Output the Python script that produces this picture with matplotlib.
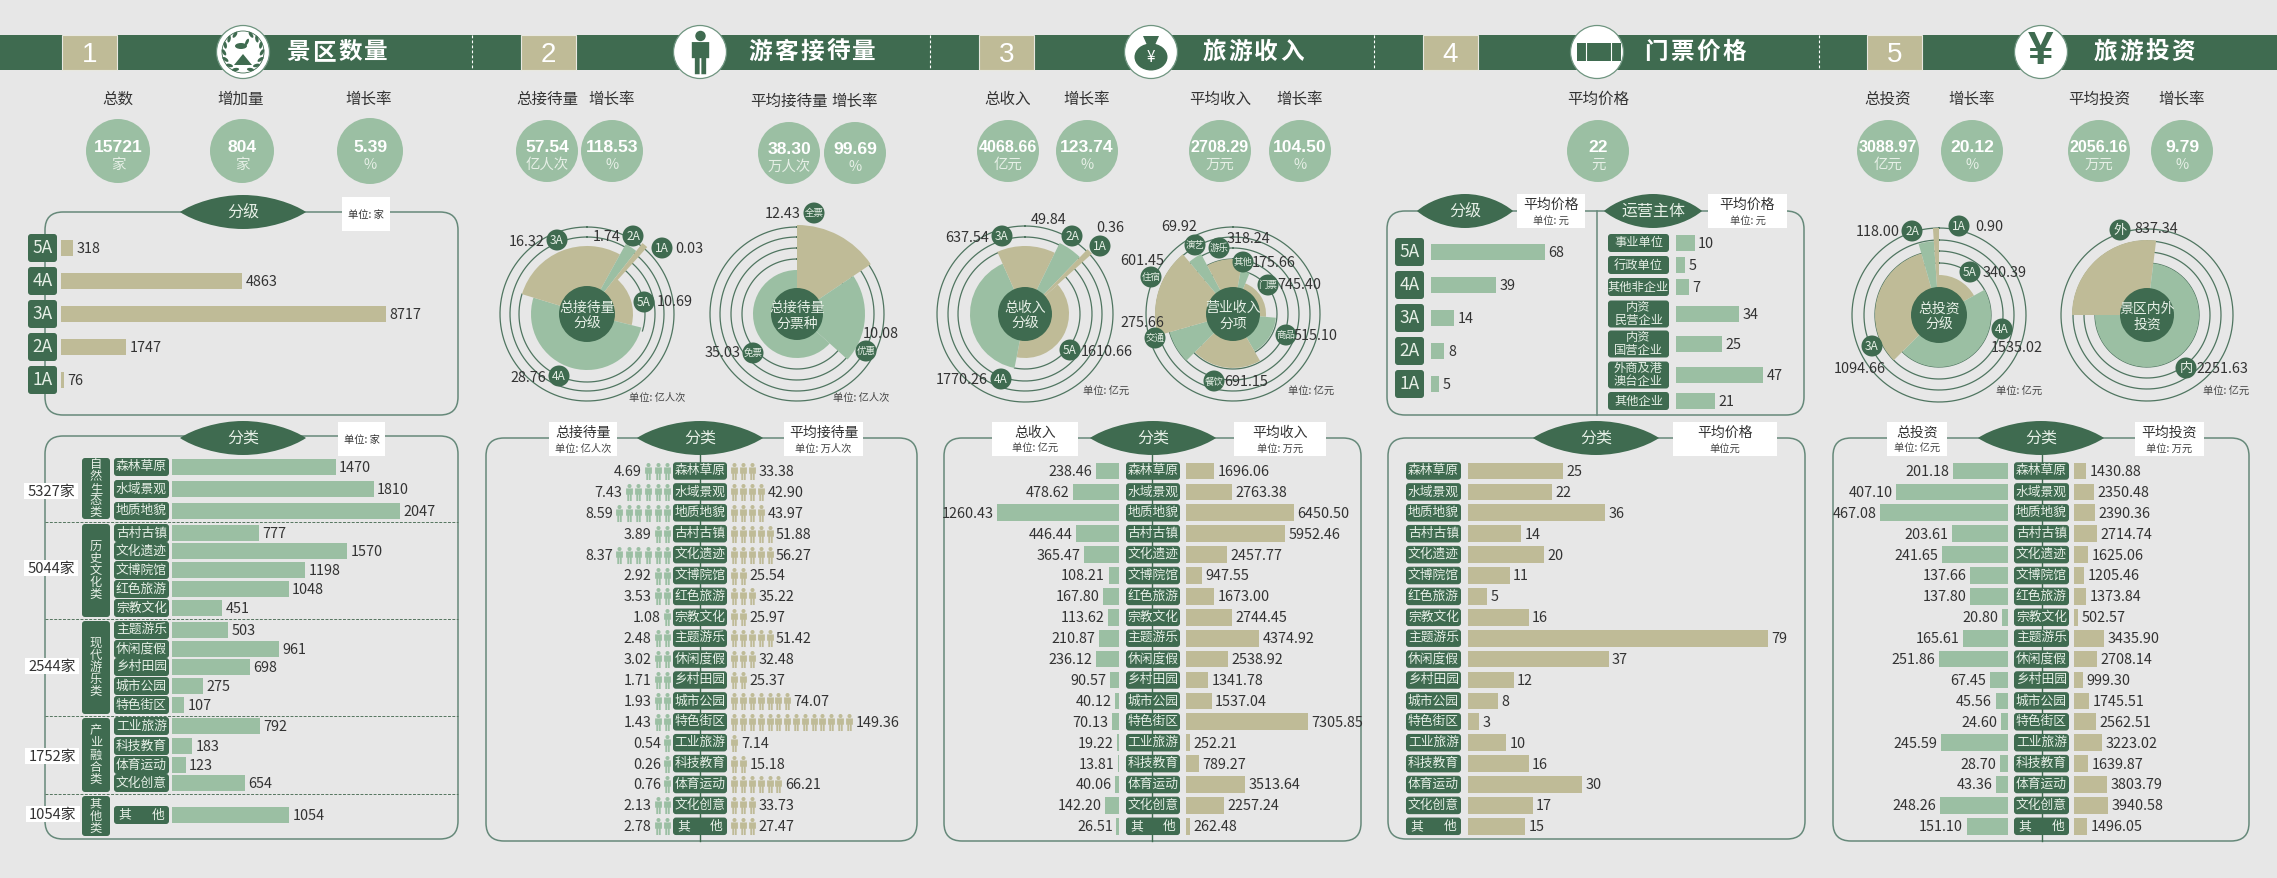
import numpy as np
import matplotlib
matplotlib.use("Agg")
import matplotlib.pyplot as plt
from matplotlib.patches import Circle, Ellipse, FancyBboxPatch, PathPatch, Rectangle
from matplotlib.path import Path

plt.rcParams["font.family"] = ["Noto Sans CJK SC", "DejaVu Sans"]

W, H = 2277, 879
BG = "#e7e7e7"
DARK = "#3f6b50"
GREEN = "#9bbfa3"
TAN = "#bfbb97"
INK = "#333333"
PALE = "#e6efe6"
RING = "#4f7560"
EDGE = "#66897a"
VAL_SIZE = 10.4

# ---- data ----
CATS = ["森林草原", "水域景观", "地质地貌", "古村古镇", "文化遗迹", "文博院馆", "红色旅游", "宗教文化", "主题游乐",
        "休闲度假", "乡村田园", "城市公园", "特色街区", "工业旅游", "科技教育", "体育运动", "文化创意", "其他"]
GRADES = ["5A", "4A", "3A", "2A", "1A"]

spots_by_grade = [318, 4863, 8717, 1747, 76]
spots_by_cat = [1470, 1810, 2047, 777, 1570, 1198, 1048, 451, 503, 961, 698, 275, 107, 792, 183, 123, 654, 1054]
group_names = ["自然生态类", "历史文化类", "现代游乐类", "产业融合类", "其他类"]
group_totals = ["5327家", "5044家", "2544家", "1752家", "1054家"]

guests_total = [4.69, 7.43, 8.59, 3.89, 8.37, 2.92, 3.53, 1.08, 2.48, 3.02, 1.71, 1.93, 1.43, 0.54, 0.26, 0.76, 2.13, 2.78]
guests_avg = [33.38, 42.90, 43.97, 51.88, 56.27, 25.54, 35.22, 25.97, 51.42, 32.48, 25.37, 74.07, 149.36, 7.14, 15.18, 66.21, 33.73, 27.47]
guests_total_icons = [3, 5, 6, 2, 6, 2, 2, 1, 2, 2, 2, 2, 2, 1, 1, 1, 2, 2]
guests_avg_icons = [3, 4, 4, 5, 5, 2, 3, 2, 5, 3, 2, 7, 14, 1, 2, 6, 3, 3]

income_total = [238.46, 478.62, 1260.43, 446.44, 365.47, 108.21, 167.80, 113.62, 210.87, 236.12, 90.57, 40.12, 70.13, 19.22, 13.81, 40.06, 142.20, 26.51]
income_avg = [1696.06, 2763.38, 6450.50, 5952.46, 2457.77, 947.55, 1673.00, 2744.45, 4374.92, 2538.92, 1341.78, 1537.04, 7305.85, 252.21, 789.27, 3513.64, 2257.24, 262.48]

price_by_grade = [68, 39, 14, 8, 5]
owners = ["事业单位", "行政单位", "其他非企业", "内资\n民营企业", "内资\n国营企业", "外商及港\n澳台企业", "其他企业"]
price_by_owner = [10, 5, 7, 34, 25, 47, 21]
price_by_cat = [25, 22, 36, 14, 20, 11, 5, 16, 79, 37, 12, 8, 3, 10, 16, 30, 17, 15]

invest_total = [201.18, 407.10, 467.08, 203.61, 241.65, 137.66, 137.80, 20.80, 165.61, 251.86, 67.45, 45.56, 24.60, 245.59, 28.70, 43.36, 248.26, 151.10]
invest_avg = [1430.88, 2350.48, 2390.36, 2714.74, 1625.06, 1205.46, 1373.84, 502.57, 3435.90, 2708.14, 999.30, 1745.51, 2562.51, 3223.02, 1639.87, 3803.79, 3940.58, 1496.05]

rose_guest_grade = [10.69, 28.76, 16.32, 1.74, 0.03]
rose_guest_ticket_names = ["全票", "优惠", "免票"]
rose_guest_ticket = [12.43, 10.08, 35.03]
rose_income_grade = [1610.66, 1770.26, 637.54, 49.84, 0.36]
rose_income_item_names = ["门票", "商品", "餐饮", "交通", "住宿", "演艺", "游乐", "其他"]
rose_income_item = [745.40, 515.10, 691.15, 275.66, 601.45, 69.92, 318.24, 175.66]
rose_invest_grade = [340.39, 1535.02, 1094.66, 118.00, 0.90]
rose_invest_place_names = ["外", "内"]
rose_invest_place = [837.34, 2251.63]

angles_guest_grade = [40, 104, 287, 389, 398, 402]
reach_guest_grade = [46, 56, 68, 80, 90]
angles_guest_ticket = [0, 56, 132, 360]
reach_guest_ticket = [89, 68, 44]
angles_income_grade = [48, 191, 336, 386, 404, 408]
reach_income_grade = [44, 55, 68, 79, 90]
angles_income_item = [22, 95, 150, 225, 254, 320, 332, 370, 382]
reach_income_item = [33, 43, 54, 66, 78, 68, 55, 44]
angles_invest_grade = [0, 61, 225, 344, 356, 360]
reach_invest_grade = [40, 52, 64, 74, 87]
angles_invest_place = [270, 367, 630]
reach_invest_place = [75, 52]

# ---- layout in reference pixels ----
ROW_Y = 472 + 20.9 * np.arange(18)
CLS_ROW_Y = [468, 490, 512, 534, 552, 571, 590, 609, 631, 650, 668, 687, 706, 727, 747, 766, 784, 816]
GRADE_Y = [249, 282, 315, 348, 381]
PRICE_GRADE_Y = [253, 286, 319, 352, 385]
OWNER_Y = [244, 266, 288, 315, 345, 376, 402]
OWNER_H = [18, 18, 18, 27, 27, 27, 18]
GROUP_BOX = [(459, 520), (525, 618), (622, 715), (719, 793), (797, 837)]
GROUP_LABEL = [(51, 492), (51, 569), (52, 667), (52, 757), (53, 815)]
GROUP_DASH_Y = [523, 620, 717, 795]

fig = plt.figure(figsize=(W / 100, H / 100), dpi=100, facecolor=BG)


def layer(z):
    ax = fig.add_axes([0, 0, 1, 1], zorder=z)
    ax.set_xlim(0, W)
    ax.set_ylim(H, 0)
    ax.axis("off")
    ax.patch.set_alpha(0)
    return ax


bg = layer(0)
fg = layer(10)


def rounded(ax, x0, y0, x1, y1, r, fc="none", ec="none", lw=1.0, z=2):
    ax.add_patch(FancyBboxPatch((x0, y0), x1 - x0, y1 - y0, boxstyle=f"round,pad=0,rounding_size={r}",
                                fc=fc, ec=ec, lw=lw, zorder=z))


def txt(ax, x, y, s, size=10, color=INK, z=6, **kw):
    ax.text(x, y, s, fontsize=size, color=color, ha="center", va="center", zorder=z, **kw)


def leaf(cx, cy, hw, hh, s):
    verts = [(cx - hw, cy), (cx - hw * 0.8, cy - hh * 0.5), (cx - hw * 0.4, cy - hh), (cx, cy - hh),
             (cx + hw * 0.4, cy - hh), (cx + hw * 0.8, cy - hh * 0.5), (cx + hw, cy),
             (cx + hw * 0.8, cy + hh * 0.5), (cx + hw * 0.4, cy + hh), (cx, cy + hh),
             (cx - hw * 0.4, cy + hh), (cx - hw * 0.8, cy + hh * 0.5), (cx - hw, cy)]
    codes = [Path.MOVETO] + [Path.CURVE4] * 12
    fg.add_patch(PathPatch(Path(verts, codes), fc=DARK, ec="none", zorder=4))
    txt(fg, cx, cy - 1, s, 11.5, PALE)


def note(x0, x1, y0, y1, head, unit):
    fg.add_patch(Rectangle((x0, y0), x1 - x0, y1 - y0, fc="white", ec="none", zorder=4))
    cx = (x0 + x1) / 2
    if head:
        txt(fg, cx, y0 + 10, head, 10)
        txt(fg, cx, y0 + 26, unit, 7.4, "#444444")
    else:
        txt(fg, cx, (y0 + y1) / 2, unit, 7.4, "#333333")


def tag(x0, x1, yc, h, s, size=9.2):
    rounded(fg, x0, yc - h / 2, x1, yc + h / 2, 3, fc=DARK)
    if s == "其他":
        txt(fg, x0 + 11, yc - 1, "其", size, PALE)
        txt(fg, x1 - 11, yc - 1, "他", size, PALE)
    else:
        txt(fg, (x0 + x1) / 2, yc - 1, s, size, PALE, linespacing=0.95)


def kpi(x, y, r, value, unit):
    fg.add_patch(Circle((x, y), r, fc=GREEN, ec="none", zorder=3))
    size = 11.6 if len(value) >= 7 else 12.6
    txt(fg, x, y - 5, value, size, "white", family="Liberation Sans", fontweight="bold")
    txt(fg, x, y + 13, unit, 10.4, PALE)


def bars(x0, x1, rows, values, color, vmax, fmt="{:g}", flip=False, height=16.7, size=VAL_SIZE):
    ytop, ybot = min(rows) - 12, max(rows) + 12
    ax = fig.add_axes([x0 / W, 1 - ybot / H, (x1 - x0) / W, (ybot - ytop) / H], zorder=5)
    ax.set_xlim((vmax, 0) if flip else (0, vmax))
    ax.set_ylim(ybot, ytop)
    ax.axis("off")
    ax.patch.set_alpha(0)
    ax.barh(rows, values, height=height, color=color)
    for v, y in zip(values, rows):
        ax.annotate(fmt.format(v), (v, y), xytext=(-2.5 if flip else 2.5, 0), textcoords="offset points",
                    ha="right" if flip else "left", va="center", fontsize=size, color=INK, annotation_clip=False)
    return ax


PERSON = Path.make_compound_path(
    Path.circle((0, 0.38), 0.12),
    Path([(-0.2, 0.24), (0.2, 0.24), (0.2, -0.13), (0.13, -0.13), (0.13, -0.5), (0.02, -0.5), (0.02, -0.13),
          (-0.02, -0.13), (-0.02, -0.5), (-0.13, -0.5), (-0.13, -0.13), (-0.2, -0.13), (-0.2, 0.24)],
         [Path.MOVETO] + [Path.LINETO] * 11 + [Path.CLOSEPOLY]))


def people(base, pitch, slots, rows, counts, values, color, flip=False):
    x0, x1 = (base - pitch * slots, base) if flip else (base, base + pitch * slots)
    ytop, ybot = min(rows) - 12, max(rows) + 12
    ax = fig.add_axes([x0 / W, 1 - ybot / H, (x1 - x0) / W, (ybot - ytop) / H], zorder=5)
    ax.set_xlim((slots, 0) if flip else (0, slots))
    ax.set_ylim(ybot, ytop)
    ax.axis("off")
    ax.patch.set_alpha(0)
    for n, v, y in zip(counts, values, rows):
        ax.scatter(np.arange(n) + 0.5, [y] * n, s=150, marker=PERSON, color=color, linewidths=0)
        ax.annotate(f"{v:.2f}", (n, y), xytext=(-1 if flip else 1.5, 0), textcoords="offset points",
                    ha="right" if flip else "left", va="center", fontsize=VAL_SIZE, color=INK, annotation_clip=False)


def rose(cx, cy, angles, reach, colors, rings, hub, hub_text):
    R = 100
    ax = fig.add_axes([(cx - R) / W, 1 - (cy + R) / H, 2 * R / W, 2 * R / H], projection="polar", zorder=5)
    ax.set_theta_zero_location("N")
    ax.set_theta_direction(-1)
    ax.set_ylim(0, R)
    ax.axis("off")
    ax.patch.set_alpha(0)
    for r, a0, a1 in rings:
        th = np.radians(np.linspace(a0, a1, 240))
        ax.plot(th, np.full_like(th, r), color=RING, lw=0.9, zorder=1)
    for a0, a1, r, c in zip(angles[:-1], angles[1:], reach, colors):
        ax.bar(np.radians(a0), r, width=np.radians(a1 - a0), align="edge", color=c, linewidth=0, zorder=2)
    ax.bar(0, hub, width=2 * np.pi, color=DARK, linewidth=0, zorder=3)
    txt(fg, cx, cy - 7, hub_text[0], 10, PALE)
    txt(fg, cx, cy + 9, hub_text[1], 10, PALE)


def badge(x, y, s, value, vx, vy):
    fg.add_patch(Circle((x, y), 10.5, fc=DARK, ec="none", zorder=6))
    txt(fg, x, y - 0.5, s, 8.6 if s.isascii() else 6.8 if len(s) > 1 else 9.5, PALE, z=7)
    txt(fg, vx, vy, f"{value:.2f}", VAL_SIZE, INK, z=7)


def full(*radii):
    return [(r, 0, 360) for r in radii]


# ---- header band ----
bg.add_patch(Rectangle((0, 36), W, 35, fc=DARK, ec="none", zorder=1))
for x in [472, 930, 1374, 1819]:
    bg.plot([x, x], [36, 71], color="white", lw=0.8, ls=(0, (2.5, 2)), zorder=2)
for x, n in zip([62, 521, 979, 1423, 1867], "12345"):
    bg.add_patch(Rectangle((x, 36), 55, 35, fc=TAN, ec="#e8e8e0", lw=0.8, zorder=2))
    txt(bg, x + 27.5, 55, n, 20, "white", family="Liberation Sans")
for x, t in zip([337, 812, 1253, 1695, 2144], ["景区数量", "游客接待量", "旅游收入", "门票价格", "旅游投资"]):
    pitch = 26
    for i, ch in enumerate(t):
        txt(bg, x + (i - (len(t) - 1) / 2) * pitch, 52, ch, 17, "white", fontweight="bold")
for x in [243, 700, 1151, 1597, 2041]:
    fg.add_patch(Circle((x, 53), 26.5, fc="white", ec="#6f9580", lw=0.9, zorder=3))

# emblem
fg.add_patch(Circle((243, 53), 21, fc="white", ec=DARK, lw=0.6, zorder=4))
for side in (-1, 1):
    for a in np.radians(np.arange(-65, 70, 22)):
        ex, ey = 243 + side * 19 * np.cos(a), 53 + 19 * np.sin(a)
        fg.add_patch(Ellipse((ex, ey), 3.2, 7, angle=np.degrees(a) * side + 90 - 60 * side, fc=DARK, ec="none", zorder=5))
fg.add_patch(Ellipse((241, 47), 12, 6, fc=DARK, ec="none", zorder=5))
fg.add_patch(Ellipse((247, 43), 3, 7, angle=25, fc=DARK, ec="none", zorder=5))
fg.add_patch(PathPatch(Path([(234, 66), (243, 55), (252, 66), (234, 66)], closed=True), fc=DARK, ec="none", zorder=5))

# person, bag, ticket, yen
fg.scatter([700], [53], s=980, marker=PERSON, color=DARK, linewidths=0, zorder=5)
fg.add_patch(Ellipse((1151, 58), 33, 27, fc=DARK, ec="none", zorder=5))
fg.add_patch(PathPatch(Path([(1143, 37), (1159, 37), (1155, 46), (1147, 46), (1143, 37)], closed=True), fc=DARK, ec="none", zorder=5))
txt(fg, 1151, 57, "¥", 11, "white")
fg.add_patch(Rectangle((1577, 44), 44, 18, fc=DARK, ec="none", zorder=5))
for x in [1586, 1611]:
    fg.plot([x, x], [44, 62], color="white", lw=0.8, zorder=6)
txt(fg, 2041, 52, "¥", 33, DARK, family="Liberation Sans", fontweight="bold")

# ---- kpi labels and circles ----
for x, y, s in [(118, 99, "总数"), (241, 99, "增加量"), (369, 99, "增长率"), (547, 99, "总接待量"), (612, 99, "增长率"),
                (789, 101, "平均接待量"), (855, 101, "增长率"), (1008, 99, "总收入"), (1087, 99, "增长率"),
                (1220, 99, "平均收入"), (1300, 99, "增长率"), (1598, 99, "平均价格"), (1888, 99, "总投资"),
                (1972, 99, "增长率"), (2099, 99, "平均投资"), (2182, 99, "增长率")]:
    txt(fg, x, y, s, 11.2)
for x, y, r, v, u in [(118, 152, 32, "15721", "家"), (242, 152, 32, "804", "家"), (370, 152, 33, "5.39", "%"),
                      (547, 152, 31, "57.54", "亿人次"), (612, 152, 31, "118.53", "%"),
                      (789, 154, 31, "38.30", "万人次"), (855, 154, 31, "99.69", "%"),
                      (1008, 152, 31, "4068.66", "亿元"), (1087, 152, 31, "123.74", "%"),
                      (1220, 152, 31, "2708.29", "万元"), (1300, 152, 31, "104.50", "%"),
                      (1598, 152, 31, "22", "元"), (1888, 152, 31, "3088.97", "亿元"), (1972, 152, 31, "20.12", "%"),
                      (2099, 152, 31, "2056.16", "万元"), (2182, 152, 31, "9.79", "%")]:
    kpi(x, y, r, v, u)

# ---- frames ----
for x0, y0, x1, y1 in [(45, 213, 458, 416), (45, 437, 458, 840), (486, 439, 917, 842), (944, 439, 1361, 842),
                       (1387, 212, 1804, 416), (1388, 439, 1805, 840), (1833, 439, 2249, 842)]:
    rounded(bg, x0, y0, x1, y1, 18, ec=EDGE, lw=1.1)
for x in [700, 1152, 2042]:
    bg.plot([x, x], [456, 842], color=DARK, lw=1, zorder=2)
bg.plot([1597, 1597], [212, 416], color=EDGE, lw=1.1, zorder=2)
for y in GROUP_DASH_Y:
    bg.plot([45, 458], [y, y], color="#55755f", lw=0.7, ls=(0, (3, 1.5)), zorder=2)

leaf(243, 213, 63, 17, "分级")
note(342, 390, 198, 232, None, "单位: 家")
leaf(243, 439, 63, 17, "分类")
note(338, 385, 423, 457, None, "单位: 家")
leaf(700, 439, 63, 17, "分类")
note(549, 617, 423, 457, "总接待量", "单位: 亿人次")
note(784, 863, 423, 457, "平均接待量", "单位: 万人次")
leaf(1153, 439, 63, 17, "分类")
note(992, 1078, 423, 457, "总收入", "单位: 亿元")
note(1234, 1326, 423, 457, "平均收入", "单位: 万元")
leaf(1465, 212, 48, 17, "分级")
note(1517, 1585, 195, 229, "平均价格", "单位: 元")
leaf(1653, 212, 49, 17, "运营主体")
note(1708, 1787, 195, 229, "平均价格", "单位: 元")
leaf(1596, 439, 63, 17, "分类")
note(1673, 1777, 423, 457, "平均价格", "单位元")
leaf(2041, 439, 63, 17, "分类")
note(1887, 1947, 423, 457, "总投资", "单位: 亿元")
note(2135, 2204, 423, 457, "平均投资", "单位: 万元")

# ---- panel 1 ----
bars(61, 386, GRADE_Y, spots_by_grade, TAN, max(spots_by_grade))
for y, g in zip(GRADE_Y, GRADES):
    tag(28, 57, y, 28, g, 12.5)
bars(172, 400, CLS_ROW_Y, spots_by_cat, GREEN, max(spots_by_cat), height=16)
for y, c in zip(CLS_ROW_Y, CATS):
    tag(114, 169, y, 18, c)
for (y0, y1), name, total, (lx, ly) in zip(GROUP_BOX, group_names, group_totals, GROUP_LABEL):
    rounded(fg, 82, y0, 110, y1, 3, fc=DARK)
    ym = (y0 + y1) / 2
    for i, ch in enumerate(name):
        txt(fg, 96, ym + (i - (len(name) - 1) / 2) * 12.2 - 1, ch, 8.8, PALE)
    fg.add_patch(Rectangle((lx - 27, ly - 8), 54, 16, fc="white", ec="none", zorder=4))
    txt(fg, lx, ly, total, 10.6)

# ---- panel 2 ----
people(672, 9.6, 7, ROW_Y, guests_total_icons, guests_total, GREEN, flip=True)
people(730, 8.8, 15, ROW_Y, guests_avg_icons, guests_avg, TAN)
for y, c in zip(ROW_Y, CATS):
    tag(673, 727, y, 17.5, c)

# ---- panel 3 ----
bars(997, 1119, ROW_Y, income_total, GREEN, max(income_total), "{:.2f}", flip=True)
bars(1186, 1308, ROW_Y, income_avg, TAN, max(income_avg), "{:.2f}")
for y, c in zip(ROW_Y, CATS):
    tag(1126, 1180, y, 17.5, c)

# ---- panel 4 ----
bars(1431, 1545, PRICE_GRADE_Y, price_by_grade, GREEN, max(price_by_grade))
for y, g in zip(PRICE_GRADE_Y, GRADES):
    tag(1395, 1424, y, 28, g, 12.5)
bars(1676, 1763, OWNER_Y, price_by_owner, GREEN, max(price_by_owner))
for y, h, o in zip(OWNER_Y, OWNER_H, owners):
    tag(1608, 1669, y, h, o, 8.8)
bars(1468, 1768, ROW_Y, price_by_cat, TAN, max(price_by_cat))
for y, c in zip(ROW_Y, CATS):
    tag(1406, 1461, y, 17.5, c)

# ---- panel 5 ----
bars(1880, 2008, ROW_Y, invest_total, GREEN, max(invest_total), "{:.2f}", flip=True)
bars(2074, 2108, ROW_Y, invest_avg, TAN, max(invest_avg), "{:.2f}")
for y, c in zip(ROW_Y, CATS):
    tag(2014, 2069, y, 17.5, c)

# ---- roses ----
ALT5 = [TAN, GREEN, TAN, GREEN, TAN]
rose(587, 315, angles_guest_grade, reach_guest_grade, ALT5,
     [(58, 40, 107), (68, 40, 287)] + full(77, 87), 28, ("总接待量", "分级"))
rose(797, 315, angles_guest_ticket, reach_guest_ticket, [TAN, GREEN, GREEN], full(55, 66, 77, 87), 26, ("总接待量", "分票种"))
rose(1025, 315, angles_income_grade, reach_income_grade, ALT5,
     [(55, 48, 191), (67, 48, 336)] + full(77, 88), 27, ("总收入", "分级"))
rose(1233, 315, angles_income_item, reach_income_item, [TAN, GREEN] * 4, full(44, 55, 66, 77, 87), 27, ("营业收入", "分项"))
rose(1939, 316, angles_invest_grade, reach_invest_grade, ALT5, full(52, 64, 75, 87), 28, ("总投资", "分级"))
rose(2147, 316, angles_invest_place, reach_invest_place, [TAN, GREEN], full(52, 63, 74, 86), 27, ("景区内外", "投资"))

guest_grade_spots = [(644, 303, 675, 302), (559, 377, 528, 378), (557, 241, 527, 242), (633, 237, 607, 237), (662, 249, 689, 249)]
for g, v, p in zip(GRADES, rose_guest_grade, guest_grade_spots):
    badge(p[0], p[1], g, v, p[2], p[3])
guest_ticket_spots = [(814, 214, 783, 214), (866, 352, 881, 334), (753, 354, 723, 353)]
for g, v, p in zip(rose_guest_ticket_names, rose_guest_ticket, guest_ticket_spots):
    badge(p[0], p[1], g, v, p[2], p[3])
income_grade_spots = [(1070, 351, 1107, 352), (1001, 380, 962, 380), (1002, 237, 967, 238), (1072, 237, 1049, 220), (1100, 247, 1110, 228)]
for g, v, p in zip(GRADES, rose_income_grade, income_grade_spots):
    badge(p[0], p[1], g, v, p[2], p[3])
income_item_spots = [(1268, 286, 1299, 285), (1286, 336, 1316, 336), (1214, 382, 1246, 382), (1155, 339, 1142, 323),
                     (1151, 278, 1142, 261), (1195, 246, 1179, 227), (1219, 249, 1248, 239), (1243, 263, 1274, 263)]
for g, v, p in zip(rose_income_item_names, rose_income_item, income_item_spots):
    badge(p[0], p[1], g, v, p[2], p[3])
invest_grade_spots = [(1970, 273, 2005, 273), (2002, 330, 2017, 348), (1872, 347, 1860, 369), (1912, 232, 1878, 232), (1959, 227, 1989, 227)]
for g, v, p in zip(GRADES, rose_invest_grade, invest_grade_spots):
    badge(p[0], p[1], g, v, p[2], p[3])
invest_place_spots = [(2120, 231, 2156, 229), (2186, 369, 2222, 369)]
for g, v, p in zip(rose_invest_place_names, rose_invest_place, invest_place_spots):
    badge(p[0], p[1], g, v, p[2], p[3])
for x, y, s in [(657, 398, "单位: 亿人次"), (861, 398, "单位: 亿人次"), (1106, 392, "单位: 亿元"), (1311, 392, "单位: 亿元"),
                (2019, 392, "单位: 亿元"), (2226, 392, "单位: 亿元")]:
    txt(fg, x, y, s, 7.4, "#444444")

fig.savefig("out.png", dpi=100, facecolor=BG)
